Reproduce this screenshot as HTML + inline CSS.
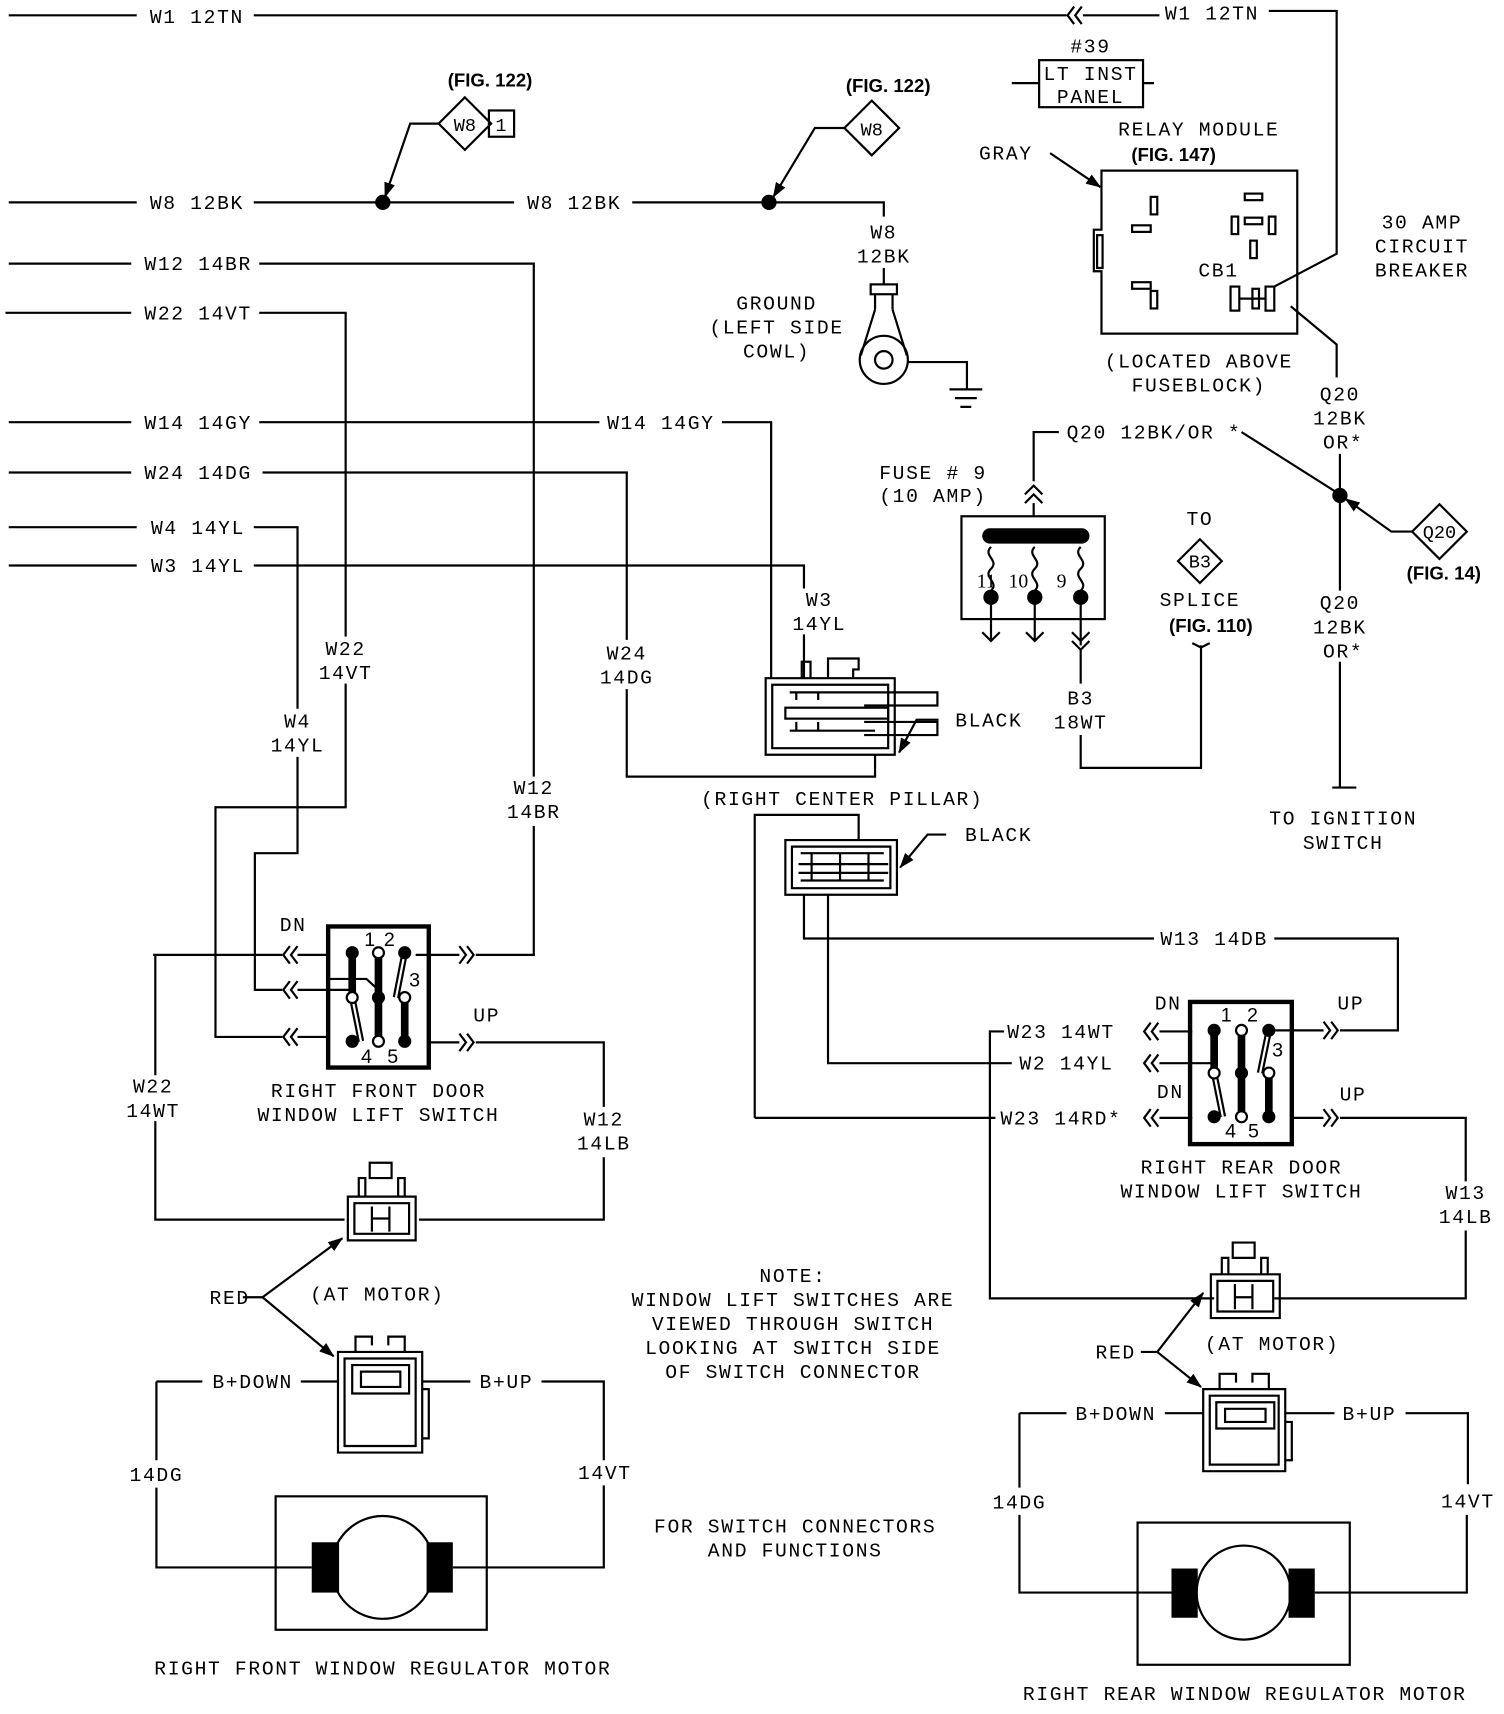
<!DOCTYPE html>
<html><head><meta charset="utf-8"><style>
html,body{margin:0;padding:0;background:#fff}
svg{display:block}
text{font-family:"Liberation Mono",monospace;font-size:18px;letter-spacing:1.5px;fill:#000}
.b{font-family:"Liberation Sans",sans-serif;font-weight:bold;font-size:17px;letter-spacing:0}
.m{text-anchor:middle}
</style></head><body>
<svg width="1504" height="1714" viewBox="0 0 1375 1567" preserveAspectRatio="none" xmlns="http://www.w3.org/2000/svg">
<defs>
<path id="ll" d="M7,-8 L1,0 L7,8 M14,-8 L8,0 L14,8" fill="none" stroke="#000" stroke-width="2"/>
<path id="rr" d="M0,-8 L6,0 L0,8 M7,-8 L13,0 L7,8" fill="none" stroke="#000" stroke-width="2"/>
<marker id="ar" markerWidth="14" markerHeight="10" refX="13" refY="5" orient="auto" markerUnits="userSpaceOnUse"><path d="M0,0 L14,5 L0,10 Z"/></marker>
</defs>
<g stroke="#000" stroke-width="2" fill="none">
<!-- W1 -->
<path d="M8,14 H125 M232,14 H975 M990,14 H1060 M1160,10 H1222 V232 L1165,262 M1180,280 L1222,315 V345"/>
<use href="#ll" x="975" y="14"/>
<path d="M925,76 H950 M1045,76 H1055"/>
<rect x="950" y="55" width="95" height="43"/>
<!-- W8 -->
<path d="M8,185 H125 M232,185 H470 M578,185 H808 V198"/>
<path d="M401,113 H375 L352,180" marker-end="url(#ar)"/>
<path d="M772,117 H745 L707,180" marker-end="url(#ar)"/>
<path d="M425,89 L449,113 L425,137 L401,113 Z M797,92 L822,117 L797,142 L772,117 Z"/>
<rect x="447" y="101" width="23" height="24"/>
<!-- ground -->
<path d="M808,245 V260"/>
<rect x="796" y="260" width="24" height="9"/>
<path d="M800,269 V283 M816,269 V283 M800,283 L787,325 M816,283 L829,325"/>
<circle cx="808" cy="329" r="22"/>
<circle cx="808" cy="329" r="8"/>
<path d="M830,331 H884 V356 M868,356 H898 M873,364 H893 M878,372 H888"/>
<!-- relay -->
<path d="M960,140 L1006,171" marker-end="url(#ar)"/>
<path d="M1007,156 H1186 V305 H1007 V248 H1000 V210 H1007 Z"/>
<rect x="1003" y="215" width="5" height="30"/>
<rect x="1052" y="180" width="6" height="16"/><rect x="1035" y="206" width="17" height="6"/>
<rect x="1035" y="258" width="17" height="6"/><rect x="1052" y="266" width="6" height="16"/>
<rect x="1138" y="177" width="16" height="6"/><rect x="1138" y="199" width="16" height="6"/>
<rect x="1126" y="198" width="6" height="16"/><rect x="1160" y="198" width="6" height="16"/>
<rect x="1143" y="220" width="6" height="16"/>
<rect x="1125" y="262" width="8" height="22"/><rect x="1145" y="264" width="6" height="18"/><rect x="1157" y="262" width="8" height="22"/>
<path d="M1133,273 H1157"/>
<!-- wires left -->
<path d="M8,241 H120 M237,241 H488 V710 M488,755 V873 H435"/>
<use href="#rr" x="420" y="873"/>
<path d="M5,286 H120 M237,286 H316 V582 M316,625 V738 H197 V948 H258 M272,948 H300"/>
<use href="#ll" x="258" y="948"/>
<path d="M8,386 H120 M237,386 H548 M660,386 H705 V620"/>
<path d="M8,432 H120 M240,432 H573 V585 M573,630 V710 H800 V690"/>
<path d="M8,482 H125 M232,482 H272 V648 M272,692 V780 H233 V905 H258 M272,905 H320"/>
<use href="#ll" x="258" y="905"/>
<path d="M8,517 H125 M232,517 H735 V538 M735,580 V620"/>
<!-- pillar connector -->
<path d="M700,620 H818 V690 H700 Z M706,626 H812 V684 H706 Z"/>
<path d="M733,620 V605 H741 V620 M757,620 V602 H785 V612 H780 V620"/>
<rect x="718" y="647" width="94" height="10"/>
<path d="M722,633 H800 M722,668 H800 M728,640 V633 M748,640 V633 M728,668 V660 M748,668 V660 M790,633 H857 V645 H790 M790,660 H857 V672 H790"/>
<path d="M858,658 H838 L822,688" marker-end="url(#ar)"/>
<!-- black connector 2 -->
<path d="M690,1022 V745 H785 V768"/>
<path d="M718,768 H820 V818 H718 Z M724,774 H814 V812 H724 Z"/>
<path d="M732,780 H808 M732,805 H808 M742,780 V805 M768,780 V805 M794,780 V805 M730,790 H812 M730,798 H812"/>
<path d="M865,763 H848 L823,793" marker-end="url(#ar)"/>
<path d="M735,818 V858 H1055 M1165,858 H1278 V942 H1225"/>
<use href="#rr" x="1210" y="942"/>
<path d="M757,818 V972 H925 M1060,972 H1110"/>
<use href="#ll" x="1045" y="972"/>
<path d="M918,943 H905 V1187 H1110 M1060,943 H1090"/>
<use href="#ll" x="1045" y="943"/>
<path d="M690,1022 H910 M1060,1022 H1090"/>
<use href="#ll" x="1045" y="1022"/>
<path d="M1182,1022 H1210 M1225,1022 H1340 V1080 M1340,1125 V1187 H1165"/>
<use href="#rr" x="1210" y="1022"/>
<path d="M1160,942 H1210"/>
<!-- fuse -->
<path d="M945,440 V395 H968 M1135,395 L1225,452 M1225,415 V540 M1225,605 V720 M1218,720 H1240"/>
<path d="M937,452 L945,444 L953,452 M937,460 L945,452 L953,460 M945,460 V472"/>
<rect x="879" y="472" width="131" height="94"/>
<path d="M906,548 V585 M946,548 V585 M988,548 V590 M898,578 L906,586 L914,578 M938,578 L946,586 L954,578 M980,578 L988,586 L996,578 M980,586 L988,594 L996,586 M988,594 V625 M988,672 V702 H1098 V590 M1090,588 L1098,592 L1106,588"/>
<path d="M906,500 c-8,8 8,12 0,20 c-8,8 8,12 0,20 M946,500 c-8,8 8,12 0,20 c-8,8 8,12 0,20 M988,500 c-8,8 8,12 0,20 c-8,8 8,12 0,20"/>
<path d="M1097,493 L1117,513 L1097,533 L1077,513 Z"/>
<path d="M1316,461 L1341,486 L1316,511 L1291,486 Z"/>
<path d="M1291,486 H1272 L1230,456" marker-end="url(#ar)"/>
<!-- front switch -->
<path d="M140,873 H258 M272,873 H300 M380,873 H420 M392,953 H420 M435,953 H552 V1012 M552,1058 V1115 H383"/>
<use href="#ll" x="258" y="873"/><use href="#rr" x="420" y="953"/>
<path d="M142,873 V983 M142,1025 V1115 H315"/>
<rect x="300" y="847" width="92" height="129" stroke-width="4"/>
<path d="M322,871 V912 M346,912 V952 M370,912 V952 M346,871 V952" stroke-width="7"/>
<path d="M322,912 L330,952 M370,871 L362,912" stroke-width="6"/>
<path d="M322,912 L330,952 M370,871 L362,912" stroke="#fff" stroke-width="2"/>
<path d="M300,895 H335 L346,905"/>
<!-- rear switch -->
<rect x="1088" y="916" width="93" height="130" stroke-width="4"/>
<path d="M1110,942 V981 M1135,981 V1021 M1160,981 V1021 M1135,942 V1021" stroke-width="7"/>
<path d="M1110,981 L1118,1021 M1160,942 L1152,981" stroke-width="6"/>
<path d="M1110,981 L1118,1021 M1160,942 L1152,981" stroke="#fff" stroke-width="2"/>
<!-- front motor connectors -->
<path d="M240,1186 L313,1132" marker-end="url(#ar)"/>
<path d="M240,1186 L305,1240" marker-end="url(#ar)"/>
<path d="M222,1186 H240"/>
<path d="M318,1094 H380 V1134 H318 Z M324,1100 H374 V1128 H324 Z M328,1094 V1077 H334 V1094 M338,1077 V1063 H358 V1077 Z M364,1094 V1077 H370 V1094 M340,1103 V1126 M356,1103 V1126 M340,1114 H356"/>
<path d="M309,1236 H386 V1328 H309 Z M315,1242 H380 V1322 H315 Z M325,1236 V1222 H340 V1230 M355,1230 V1222 H370 V1236 M322,1248 H374 V1274 H322 Z M330,1254 H366 V1268 H330 Z M386,1270 H392 V1315 H386"/>
<path d="M143,1263 H185 M275,1263 H309 M386,1263 H430 M495,1263 H552 V1335 M143,1263 V1335 M143,1360 V1433 H285 M414,1433 H552 V1358"/>
<rect x="252" y="1368" width="193" height="122"/>
<circle cx="350" cy="1433" r="47"/>
<!-- rear motor connectors -->
<path d="M1058,1236 L1100,1182" marker-end="url(#ar)"/>
<path d="M1058,1236 L1098,1268" marker-end="url(#ar)"/>
<path d="M1043,1236 H1058"/>
<path d="M1107,1165 H1170 V1205 H1107 Z M1113,1171 H1164 V1199 H1113 Z M1117,1165 V1150 H1123 V1165 M1127,1150 V1136 H1147 V1150 Z M1153,1165 V1150 H1159 V1165 M1129,1174 V1197 M1145,1174 V1197 M1129,1186 H1145"/>
<path d="M1100,1270 H1175 V1345 H1100 Z M1106,1276 H1169 V1339 H1106 Z M1115,1270 V1256 H1130 V1264 M1145,1264 V1256 H1160 V1270 M1112,1282 H1165 V1306 H1112 Z M1120,1288 H1157 V1300 H1120 Z M1175,1300 H1181 V1335 H1175"/>
<path d="M932,1292 H975 M1065,1292 H1100 M1175,1292 H1220 M1285,1292 H1342 V1357 M932,1292 V1360 M932,1385 V1456 H1071 M1202,1456 H1341 V1385"/>
<rect x="1040" y="1392" width="194" height="130"/>
<circle cx="1137" cy="1456" r="43"/>
</g>
<g fill="#000">
<circle cx="350" cy="185" r="7"/><circle cx="703" cy="185" r="7"/><circle cx="1225" cy="453" r="7"/>
<rect x="898" y="483" width="98" height="14" rx="7"/>
<circle cx="906" cy="546" r="7"/><circle cx="946" cy="546" r="7"/><circle cx="988" cy="546" r="7"/>
<circle cx="322" cy="871" r="6"/><circle cx="370" cy="871" r="6"/><circle cx="346" cy="912" r="6"/><circle cx="322" cy="952" r="6"/><circle cx="370" cy="952" r="6"/>
<circle cx="1110" cy="942" r="6"/><circle cx="1160" cy="942" r="6"/><circle cx="1135" cy="981" r="6"/><circle cx="1110" cy="1021" r="6"/><circle cx="1160" cy="1021" r="6"/>
<rect x="285" y="1410" width="25" height="46"/><rect x="390" y="1410" width="24" height="46"/>
<rect x="1071" y="1434" width="24" height="45"/><rect x="1178" y="1434" width="24" height="45"/>
</g>
<g fill="#fff" stroke="#000" stroke-width="2">
<circle cx="346" cy="871" r="5"/><circle cx="322" cy="912" r="5"/><circle cx="370" cy="912" r="5"/><circle cx="346" cy="952" r="5"/>
<circle cx="1135" cy="942" r="5"/><circle cx="1110" cy="981" r="5"/><circle cx="1160" cy="981" r="5"/><circle cx="1135" cy="1021" r="5"/>
</g>
<!-- labels -->
<text x="137" y="21">W1 12TN</text>
<text x="1065" y="18">W1 12TN</text>
<text x="997" y="48" class="m">#39</text>
<text x="997" y="73" class="m">LT INST</text>
<text x="997" y="94" class="m">PANEL</text>
<text x="1096" y="124" class="m">RELAY MODULE</text>
<text x="1073" y="147" class="b m">(FIG. 147)</text>
<text x="895" y="146">GRAY</text>
<text x="1114" y="253" class="m">CB1</text>
<text x="1300" y="209" class="m">30 AMP</text>
<text x="1300" y="231" class="m">CIRCUIT</text>
<text x="1300" y="253" class="m">BREAKER</text>
<text x="1096" y="336" class="m">(LOCATED ABOVE</text>
<text x="1096" y="358" class="m">FUSEBLOCK)</text>
<text x="448" y="79" class="b m">(FIG. 122)</text>
<text x="425" y="120" class="m" style="font-size:17px;letter-spacing:0">W8</text>
<text x="458" y="120" class="m" style="font-size:17px;letter-spacing:0">1</text>
<text x="812" y="84" class="b m">(FIG. 122)</text>
<text x="797" y="124" class="m" style="font-size:17px;letter-spacing:0">W8</text>
<text x="137" y="191">W8 12BK</text>
<text x="482" y="191">W8 12BK</text>
<text x="808" y="218" class="m">W8</text>
<text x="808" y="240" class="m">12BK</text>
<text x="710" y="283" class="m">GROUND</text>
<text x="710" y="305" class="m">(LEFT SIDE</text>
<text x="710" y="327" class="m">COWL)</text>
<text x="132" y="247">W12 14BR</text>
<text x="132" y="292">W22 14VT</text>
<text x="132" y="392">W14 14GY</text>
<text x="555" y="392">W14 14GY</text>
<text x="132" y="438">W24 14DG</text>
<text x="138" y="488">W4 14YL</text>
<text x="138" y="523">W3 14YL</text>
<text x="1055" y="401" class="m">Q20 12BK/OR *</text>
<text x="1225" y="366" class="m">Q20</text>
<text x="1225" y="388" class="m">12BK</text>
<text x="1228" y="410" class="m">OR*</text>
<text x="853" y="438" class="m">FUSE # 9</text>
<text x="853" y="459" class="m">(10 AMP)</text>
<text x="893" y="537" style="font-family:'Liberation Serif',serif;letter-spacing:0">11</text>
<text x="922" y="537" style="font-family:'Liberation Serif',serif;letter-spacing:0">10</text>
<text x="966" y="537" style="font-family:'Liberation Serif',serif;letter-spacing:0">9</text>
<text x="1097" y="480" class="m">TO</text>
<text x="1097" y="519" class="m" style="font-size:17px;letter-spacing:0">B3</text>
<text x="1097" y="554" class="m">SPLICE</text>
<text x="1107" y="578" class="b m">(FIG. 110)</text>
<text x="1316" y="492" class="m" style="font-size:17px;letter-spacing:0">Q20</text>
<text x="1320" y="530" class="b m">(FIG. 14)</text>
<text x="1225" y="557" class="m">Q20</text>
<text x="1225" y="579" class="m">12BK</text>
<text x="1228" y="601" class="m">OR*</text>
<text x="1228" y="754" class="m">TO IGNITION</text>
<text x="1228" y="776" class="m">SWITCH</text>
<text x="988" y="644" class="m">B3</text>
<text x="988" y="666" class="m">18WT</text>
<text x="749" y="554" class="m">W3</text>
<text x="749" y="576" class="m">14YL</text>
<text x="573" y="603" class="m">W24</text>
<text x="573" y="625" class="m">14DG</text>
<text x="904" y="664" class="m">BLACK</text>
<text x="770" y="736" class="m">(RIGHT CENTER PILLAR)</text>
<text x="913" y="769" class="m">BLACK</text>
<text x="316" y="599" class="m">W22</text>
<text x="316" y="621" class="m">14VT</text>
<text x="272" y="665" class="m">W4</text>
<text x="272" y="687" class="m">14YL</text>
<text x="488" y="726" class="m">W12</text>
<text x="488" y="748" class="m">14BR</text>
<text x="268" y="851" class="m">DN</text>
<text x="445" y="934" class="m">UP</text>
<text x="333" y="865" style="font-family:'Liberation Sans',sans-serif;letter-spacing:0">1</text>
<text x="351" y="865" style="font-family:'Liberation Sans',sans-serif;letter-spacing:0">2</text>
<text x="374" y="902" style="font-family:'Liberation Sans',sans-serif;letter-spacing:0">3</text>
<text x="330" y="972" style="font-family:'Liberation Sans',sans-serif;letter-spacing:0">4</text>
<text x="354" y="972" style="font-family:'Liberation Sans',sans-serif;letter-spacing:0">5</text>
<text x="346" y="1003" class="m">RIGHT FRONT DOOR</text>
<text x="346" y="1025" class="m">WINDOW LIFT SWITCH</text>
<text x="140" y="999" class="m">W22</text>
<text x="140" y="1021" class="m">14WT</text>
<text x="552" y="1029" class="m">W12</text>
<text x="552" y="1051" class="m">14LB</text>
<text x="210" y="1192" class="m">RED</text>
<text x="345" y="1189" class="m">(AT MOTOR)</text>
<text x="231" y="1269" class="m">B+DOWN</text>
<text x="463" y="1269" class="m">B+UP</text>
<text x="143" y="1354" class="m">14DG</text>
<text x="553" y="1352" class="m">14VT</text>
<text x="350" y="1531" class="m">RIGHT FRONT WINDOW REGULATOR MOTOR</text>
<text x="725" y="1172" class="m">NOTE:</text>
<text x="725" y="1194" class="m">WINDOW LIFT SWITCHES ARE</text>
<text x="725" y="1216" class="m">VIEWED THROUGH SWITCH</text>
<text x="725" y="1238" class="m">LOOKING AT SWITCH SIDE</text>
<text x="725" y="1260" class="m">OF SWITCH CONNECTOR</text>
<text x="727" y="1401" class="m">FOR SWITCH CONNECTORS</text>
<text x="727" y="1423" class="m">AND FUNCTIONS</text>
<text x="1110" y="864" class="m">W13 14DB</text>
<text x="1068" y="923" class="m">DN</text>
<text x="1235" y="923" class="m">UP</text>
<text x="1070" y="1004" class="m">DN</text>
<text x="1237" y="1006" class="m">UP</text>
<text x="970" y="949" class="m">W23 14WT</text>
<text x="975" y="978" class="m">W2 14YL</text>
<text x="970" y="1028" class="m">W23 14RD*</text>
<text x="1116" y="934" style="font-family:'Liberation Sans',sans-serif;letter-spacing:0">1</text>
<text x="1140" y="934" style="font-family:'Liberation Sans',sans-serif;letter-spacing:0">2</text>
<text x="1163" y="966" style="font-family:'Liberation Sans',sans-serif;letter-spacing:0">3</text>
<text x="1120" y="1040" style="font-family:'Liberation Sans',sans-serif;letter-spacing:0">4</text>
<text x="1141" y="1040" style="font-family:'Liberation Sans',sans-serif;letter-spacing:0">5</text>
<text x="1135" y="1073" class="m">RIGHT REAR DOOR</text>
<text x="1135" y="1095" class="m">WINDOW LIFT SWITCH</text>
<text x="1340" y="1096" class="m">W13</text>
<text x="1340" y="1118" class="m">14LB</text>
<text x="1020" y="1242" class="m">RED</text>
<text x="1163" y="1234" class="m">(AT MOTOR)</text>
<text x="1020" y="1298" class="m">B+DOWN</text>
<text x="1252" y="1298" class="m">B+UP</text>
<text x="932" y="1379" class="m">14DG</text>
<text x="1342" y="1378" class="m">14VT</text>
<text x="1138" y="1554" class="m">RIGHT REAR WINDOW REGULATOR MOTOR</text>
</svg>
</body></html>
